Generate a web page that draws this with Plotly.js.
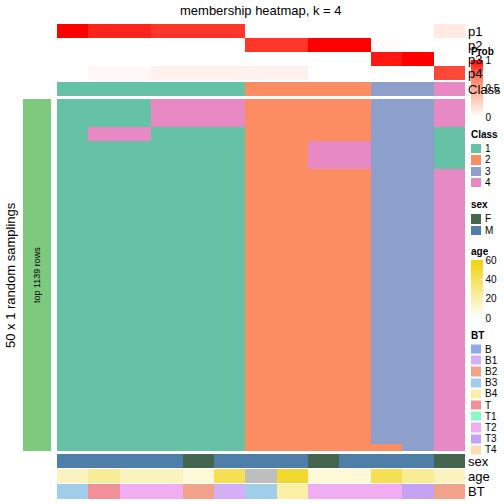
<!DOCTYPE html>
<html>
<head>
<meta charset="utf-8">
<script src="https://cdn.plot.ly/plotly-3.0.1.min.js"></script>
<style>html,body{margin:0;padding:0;background:#fff;}#chart{width:504px;height:504px;}</style>
</head>
<body>
<div id="chart"></div>
<script>
// ---------------- data ----------------
const probP1 = [1.0, 0.92, 0.92, 0.88, 0.88, 0.88, 0, 0, 0, 0, 0, 0, 0.12];
const probP2 = [0, 0, 0, 0, 0, 0, 0.88, 0.88, 1.0, 1.0, 0.02, 0, 0];
const probP3 = [0, 0, 0, 0, 0, 0, 0, 0, 0, 0, 0.95, 1.0, 0];
const probP4 = [0, 0.04, 0.04, 0.08, 0.08, 0.08, 0.08, 0.08, 0, 0, 0, 0, 0.84];
const probLabels = ['p1', 'p2', 'p3', 'p4'];
const classRow = [1, 1, 1, 1, 1, 1, 2, 2, 2, 2, 3, 3, 4];

// membership of the 1139 rows, in blocks of identical rows
const blockRows = [91, 45, 91, 889, 23];
const block1 = [1, 1, 1, 4, 4, 4, 2, 2, 2, 2, 3, 3, 4];
const block2 = [1, 4, 4, 1, 1, 1, 2, 2, 2, 2, 3, 3, 1];
const block3 = [1, 1, 1, 1, 1, 1, 2, 2, 4, 4, 3, 3, 1];
const block4 = [1, 1, 1, 1, 1, 1, 2, 2, 2, 2, 3, 3, 4];
const block5 = [1, 1, 1, 1, 1, 1, 2, 2, 2, 2, 2, 3, 4];
const rowSplitLabel = 'top 1139 rows';

const sex = ['M', 'M', 'M', 'M', 'F', 'M', 'M', 'M', 'F', 'M', 'M', 'M', 'F'];
const age = [16, 26, 16, 16, 10, 42, null, 51, 10, 10, 42, 26, 16];
const bt = ['B3', 'T', 'T2', 'T2', 'B2', 'B1', 'B3', 'B4', 'T2', 'T2', 'T2', 'T3', 'B2'];

const classLevels = ['1', '2', '3', '4'];
const classColors = ['#66C2A5', '#FC8D62', '#8DA0CB', '#E78AC3'];
const sexLevels = ['F', 'M'];
const sexColors = ['#46654F', '#4E7FA9'];
const btLevels = ['B', 'B1', 'B2', 'B3', 'B4', 'T', 'T1', 'T2', 'T3', 'T4'];
const btColors = ['#8DA9E9', '#D4AEF9', '#F0A389', '#A0CEEA', '#FAF0A5', '#F2909A', '#8DF7C7', '#F0ADF2', '#C4A3F3', '#FDDBB4'];
const probTicks = [0, 0.5, 1];
const ageTicks = [0, 20, 40, 60];

// ---------------- helpers ----------------
const W = 504;
const FONT = 'Liberation Sans, Arial, Helvetica, sans-serif';
const py = p => 1 - p / W;
const px = p => p / W;
const nCol = classRow.length;
const colEdges = Array.from({length: nCol + 1}, (_, i) => i);
function edges(counts) { const e = [0]; counts.forEach(c => e.push(e[e.length - 1] + c)); return e; }
function discreteScale(colors) {
  const n = colors.length, s = [];
  colors.forEach((c, i) => { s.push([i / n, c]); s.push([(i + 1) / n, c]); });
  return s;
}
function idx(levels, arr) { return arr.map(v => levels.indexOf(String(v))); }

const classScale = discreteScale(classColors);
const blocks = [block1, block2, block3, block4, block5];
const totalRows = blockRows.reduce((a, b) => a + b, 0);

const probScale = [[0, '#FFFFFF'], [0.25, '#FFD4C6'], [0.5, '#FFA78E'], [0.75, '#FF7156'], [1, '#FF0000']];
const ageScale = [[0, '#FFFFFF'], [1, '#F0D20A']];

const traces = [];
// top probability rows
traces.push({
  type: 'heatmap', x: colEdges, y: edges(probLabels.map(() => 1)),
  z: [probP1, probP2, probP3, probP4], zmin: 0, zmax: 1, colorscale: probScale,
  xaxis: 'x', yaxis: 'y', hoverinfo: 'skip', showscale: true,
  colorbar: {x: px(471), xanchor: 'left', y: py(60), yanchor: 'top', len: 57, lenmode: 'pixels',
    thickness: 12, thicknessmode: 'pixels', xpad: 0, ypad: 0, outlinewidth: 0,
    tickvals: probTicks, ticktext: probTicks.map(String), ticks: 'inside', ticklen: 3, tickcolor: '#ffffff',
    tickfont: {size: 10, family: FONT, color: '#000'}}
});
// class row
traces.push({
  type: 'heatmap', x: colEdges, y: [0, 1], z: [idx(classLevels, classRow)],
  zmin: -0.5, zmax: classLevels.length - 0.5, colorscale: classScale, showscale: false,
  xaxis: 'x', yaxis: 'y2', hoverinfo: 'skip'
});
// main membership matrix
traces.push({
  type: 'heatmap', x: colEdges, y: edges(blockRows), z: blocks.map(b => idx(classLevels, b)),
  zmin: -0.5, zmax: classLevels.length - 0.5, colorscale: classScale, showscale: false,
  xaxis: 'x', yaxis: 'y3', hoverinfo: 'skip'
});
// row split bar
traces.push({
  type: 'heatmap', x: [0, 1], y: [0, totalRows], z: [[0]], zmin: 0, zmax: 1,
  colorscale: [[0, '#7FC97F'], [1, '#7FC97F']], showscale: false,
  xaxis: 'x2', yaxis: 'y3', hoverinfo: 'skip'
});
// sex
traces.push({
  type: 'heatmap', x: colEdges, y: [0, 1], z: [idx(sexLevels, sex)],
  zmin: -0.5, zmax: sexLevels.length - 0.5, colorscale: discreteScale(sexColors), showscale: false,
  xaxis: 'x', yaxis: 'y4', hoverinfo: 'skip'
});
// age
traces.push({
  type: 'heatmap', x: colEdges, y: [0, 1], z: [age], zmin: 0, zmax: 60, colorscale: ageScale,
  xaxis: 'x', yaxis: 'y5', hoverinfo: 'skip', showscale: true,
  colorbar: {x: px(471), xanchor: 'left', y: py(260), yanchor: 'top', len: 58, lenmode: 'pixels',
    thickness: 12, thicknessmode: 'pixels', xpad: 0, ypad: 0, outlinewidth: 0,
    tickvals: ageTicks, ticktext: ageTicks.map(String), ticks: 'inside', ticklen: 3, tickcolor: '#ffffff',
    tickfont: {size: 10, family: FONT, color: '#000'}}
});
// age NA
traces.push({
  type: 'heatmap', x: colEdges, y: [0, 1], z: [age.map(v => v === null ? 1 : null)], zmin: 0, zmax: 1,
  colorscale: [[0, '#BEBEBE'], [1, '#BEBEBE']], showscale: false,
  xaxis: 'x', yaxis: 'y5', hoverinfo: 'skip'
});
// BT
traces.push({
  type: 'heatmap', x: colEdges, y: [0, 1], z: [idx(btLevels, bt)],
  zmin: -0.5, zmax: btLevels.length - 0.5, colorscale: discreteScale(btColors), showscale: false,
  xaxis: 'x', yaxis: 'y6', hoverinfo: 'skip'
});
// legend boxes
function legendBoxes(levels, colors, yax) {
  return {
    type: 'heatmap', x: [0, 1], y: edges(levels.map(() => 1)), z: levels.map((_, i) => [i]),
    zmin: -0.5, zmax: levels.length - 0.5, colorscale: discreteScale(colors), showscale: false,
    ygap: 2, xaxis: 'x3', yaxis: yax, hoverinfo: 'skip'
  };
}
traces.push(legendBoxes(classLevels, classColors, 'y7'));
traces.push(legendBoxes(sexLevels, sexColors, 'y8'));
traces.push(legendBoxes(btLevels, btColors, 'y9'));

// ---------------- layout ----------------
const hid = {visible: false, fixedrange: true, showgrid: false, zeroline: false};
function yax(top, bot, n, anchor) { return Object.assign({}, hid, {domain: [py(bot), py(top)], range: [n, 0], anchor: anchor}); }

const ann = [];
function txt(text, x, y, opt) {
  ann.push(Object.assign({text: text, x: px(x), y: py(y), xref: 'paper', yref: 'paper', showarrow: false,
    xanchor: 'left', yanchor: 'middle', font: {family: FONT, size: 13, color: '#000'}}, opt || {}));
}
txt('membership heatmap, k = 4', 261, 10, {xanchor: 'center'});
const rowLabelY = [31, 45, 59, 73];
probLabels.forEach((l, i) => txt(l, 466, rowLabelY[i]));
txt('Class', 466, 89);
txt('sex', 466, 461);
txt('age', 466, 476);
txt('BT', 466, 491);
txt('50 x 1 random samplings', 10, 275, {xanchor: 'center', textangle: -90});
txt(rowSplitLabel, 37, 275, {xanchor: 'center', textangle: -90, font: {family: FONT, size: 9, color: '#000'}});
// legend titles
const bold = {family: FONT, size: 10, color: '#000', weight: 'bold'};
txt('<b>Prob</b>', 469, 52, {font: bold});
txt('<b>Class</b>', 469, 135, {font: bold});
txt('<b>sex</b>', 469, 204, {font: bold});
txt('<b>age</b>', 469, 251, {font: bold});
txt('<b>BT</b>', 469, 335, {font: bold});
// legend labels
function legendLabels(levels, top, pitch) {
  levels.forEach((l, i) => txt(l, 483, top + pitch * (i + 0.5), {font: {family: FONT, size: 10, color: '#000'}}));
}
legendLabels(classLevels, 143, 11.25);
legendLabels(sexLevels, 213, 11.5);
legendLabels(btLevels, 343.5, 11.2);

const layout = {
  width: 504, height: 504, margin: {l: 0, r: 0, t: 0, b: 0, pad: 0},
  paper_bgcolor: '#ffffff', plot_bgcolor: 'rgba(0,0,0,0)', showlegend: false,
  font: {family: FONT, color: '#000'},
  xaxis: Object.assign({}, hid, {domain: [px(57), px(465)], range: [0, nCol], anchor: 'y3'}),
  xaxis2: Object.assign({}, hid, {domain: [px(23), px(51)], range: [0, 1], anchor: 'y3'}),
  xaxis3: Object.assign({}, hid, {domain: [px(471), px(481)], range: [0, 1], anchor: 'y7'}),
  yaxis: yax(24, 80, probLabels.length, 'x'),
  yaxis2: yax(82, 96, 1, 'x'),
  yaxis3: yax(99, 451, totalRows, 'x'),
  yaxis4: yax(454, 468, 1, 'x'),
  yaxis5: yax(469, 483, 1, 'x'),
  yaxis6: yax(484, 499, 1, 'x'),
  yaxis7: yax(143, 188, classLevels.length, 'x3'),
  yaxis8: yax(213, 236, sexLevels.length, 'x3'),
  yaxis9: yax(343.5, 455.5, btLevels.length, 'x3'),
  annotations: ann
};

Plotly.newPlot('chart', traces, layout, {staticPlot: true, displayModeBar: false});
</script>
</body>
</html>
